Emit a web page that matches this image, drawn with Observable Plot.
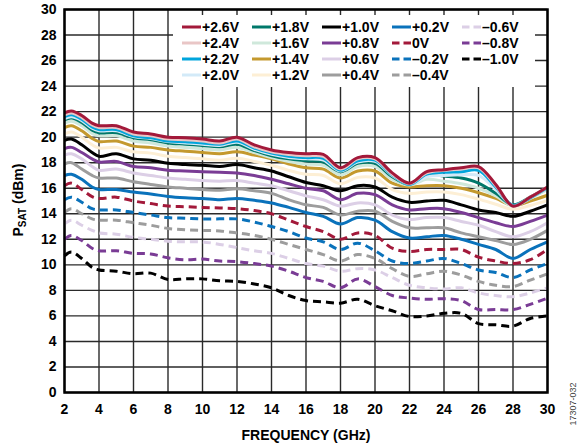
<!DOCTYPE html>
<html><head><meta charset="utf-8">
<script src="https://cdn.jsdelivr.net/npm/d3@7"></script>
<script src="https://cdn.jsdelivr.net/npm/@observablehq/plot@0.6"></script>
<style>body{margin:0;background:#fff}#chart svg{display:block}</style>
</head><body><div id="chart"></div>
<script>
const freq = [2, 2.4, 3, 3.6, 4, 5, 6, 7, 8, 9, 10, 11, 12, 13, 14, 15, 16, 17, 18, 19, 20, 21, 22, 23, 24, 25, 26, 27, 28, 29, 30];
const xTicks = [2, 4, 6, 8, 10, 12, 14, 16, 18, 20, 22, 24, 26, 28, 30];
const yTicks = [0, 2, 4, 6, 8, 10, 12, 14, 16, 18, 20, 22, 24, 26, 28, 30];

const p26 = [21.9, 22.05, 21.7, 21.1, 20.9, 20.9, 20.4, 20.25, 20.0, 19.95, 19.85, 19.7, 20.0, 19.4, 19.0, 18.8, 18.7, 18.65, 17.6, 18.4, 18.4, 17.2, 16.4, 17.3, 17.45, 17.6, 17.7, 16.3, 14.6, 15.3, 16.1];
const p24 = [21.75, 21.9, 21.55, 20.95, 20.75, 20.75, 20.25, 20.1, 19.85, 19.8, 19.7, 19.55, 19.85, 19.25, 18.85, 18.65, 18.55, 18.5, 17.5, 18.3, 18.3, 17.1, 16.35, 17.2, 17.4, 17.5, 17.6, 16.2, 14.6, 15.3, 16.1];
const p22 = [21.6, 21.75, 21.4, 20.8, 20.6, 20.6, 20.1, 19.95, 19.7, 19.65, 19.55, 19.45, 19.7, 19.15, 18.75, 18.5, 18.4, 18.35, 17.4, 18.15, 18.2, 17.05, 16.3, 17.1, 17.25, 17.3, 17.4, 16.1, 14.65, 15.25, 16.05];
const p20 = [21.45, 21.6, 21.3, 20.7, 20.5, 20.5, 20.05, 19.9, 19.65, 19.55, 19.45, 19.35, 19.6, 19.05, 18.65, 18.4, 18.3, 18.2, 17.35, 18.05, 18.1, 17.0, 16.3, 16.9, 17.0, 17.05, 17.0, 15.9, 14.65, 15.25, 16.0];
const p18 = [21.35, 21.5, 21.15, 20.55, 20.35, 20.35, 19.95, 19.8, 19.55, 19.45, 19.35, 19.25, 19.45, 18.95, 18.55, 18.3, 18.15, 18.05, 17.3, 17.95, 17.95, 16.9, 16.3, 17.05, 16.95, 16.8, 16.4, 15.6, 14.7, 15.3, 16.05];
const p16 = [21.1, 21.25, 20.9, 20.3, 20.1, 20.1, 19.7, 19.55, 19.3, 19.2, 19.1, 19.0, 19.2, 18.8, 18.4, 18.1, 17.9, 17.8, 17.05, 17.7, 17.7, 16.7, 16.25, 16.7, 16.55, 16.35, 16.0, 15.4, 14.6, 15.2, 15.9];
const p14 = [20.75, 20.9, 20.5, 19.9, 19.65, 19.7, 19.3, 19.2, 19.0, 18.9, 18.8, 18.7, 18.85, 18.6, 18.3, 17.9, 17.6, 17.5, 16.8, 17.35, 17.35, 16.4, 16.1, 16.2, 16.2, 16.0, 15.65, 15.2, 14.65, 15.0, 15.45];
const p12 = [20.25, 20.4, 20.0, 19.4, 19.15, 19.2, 18.85, 18.75, 18.5, 18.4, 18.3, 18.2, 18.35, 18.1, 17.8, 17.4, 17.1, 17.0, 16.35, 16.85, 16.8, 15.9, 15.6, 15.7, 15.7, 15.5, 15.15, 14.75, 14.35, 14.65, 15.05];
const p10 = [19.75, 19.85, 19.4, 18.8, 18.5, 18.7, 18.3, 18.2, 17.95, 17.85, 17.8, 17.7, 17.85, 17.6, 17.35, 16.9, 16.45, 16.2, 15.8, 16.2, 16.1, 15.3, 14.9, 15.0, 15.05, 14.7, 14.3, 14.1, 13.8, 14.2, 14.7];
const p08 = [19.1, 19.2, 18.8, 18.3, 18.05, 18.1, 17.7, 17.6, 17.4, 17.35, 17.3, 17.25, 17.2, 17.0, 16.7, 16.35, 16.0, 15.8, 15.1, 15.6, 15.5, 14.7, 14.3, 14.4, 14.4, 14.1, 13.7, 13.3, 13.0, 13.4, 13.9];
const p06 = [18.6, 18.7, 18.3, 17.7, 17.4, 17.5, 17.2, 17.0, 16.8, 16.7, 16.6, 16.55, 16.6, 16.4, 16.2, 15.8, 15.4, 15.1, 14.6, 14.85, 14.7, 13.9, 13.55, 13.7, 13.7, 13.4, 13.1, 12.6, 12.2, 12.6, 13.3];
const p04 = [17.9, 18.0, 17.5, 17.0, 16.8, 16.8, 16.5, 16.3, 16.1, 16.0, 15.9, 15.85, 15.95, 15.8, 15.6, 15.1, 14.7, 14.5, 13.9, 14.2, 14.2, 13.4, 12.9, 12.9, 12.9, 12.5, 12.2, 11.9, 11.6, 12.0, 12.7];
const p02 = [17.0, 17.1, 16.7, 16.1, 15.9, 15.9, 15.7, 15.55, 15.35, 15.25, 15.2, 15.1, 15.2, 15.05, 14.85, 14.5, 14.1, 13.8, 13.2, 13.7, 13.5, 12.6, 12.1, 12.2, 12.3, 12.0, 11.6, 11.2, 10.5, 11.2, 11.8];
const z00 = [16.2, 16.4, 15.9, 15.35, 15.2, 15.3, 15.0, 14.8, 14.6, 14.55, 14.5, 14.45, 14.4, 14.25, 14.0, 13.5, 13.0, 12.6, 12.0, 12.5, 12.3, 11.3, 11.05, 11.2, 11.2, 11.2, 10.6, 10.3, 10.1, 10.4, 11.2];
const m02 = [15.1, 15.3, 14.9, 14.4, 14.3, 14.3, 14.1, 13.9, 13.7, 13.65, 13.6, 13.6, 13.6, 13.35, 13.0, 12.6, 12.1, 11.8, 11.2, 11.7, 11.1, 10.3, 10.1, 10.3, 10.5, 10.1, 9.6, 9.4, 9.0, 9.6, 10.1];
const m04 = [14.1, 14.4, 14.0, 13.6, 13.5, 13.5, 13.3, 13.1, 12.85, 12.75, 12.7, 12.65, 12.5, 12.3, 12.0, 11.6, 11.2, 10.8, 10.3, 10.8, 10.5, 9.7, 9.1, 9.3, 9.5, 9.2, 8.7, 8.4, 8.3, 8.8, 9.3];
const m06 = [13.2, 13.5, 13.1, 12.7, 12.5, 12.4, 12.15, 12.0, 11.85, 11.8, 11.8, 11.6, 11.35, 11.1, 10.9, 10.5, 10.1, 9.9, 9.5, 9.7, 9.6, 9.0, 8.4, 8.2, 8.1, 8.2, 7.8, 7.6, 7.5, 7.8, 8.2];
const m08 = [12.0, 12.3, 11.9, 11.3, 11.1, 11.1, 10.9, 10.85, 10.55, 10.4, 10.45, 10.3, 10.25, 10.1, 9.9, 9.5, 9.0, 8.7, 8.2, 8.9, 8.3, 7.6, 7.4, 7.3, 7.35, 7.2, 6.5, 6.5, 6.5, 6.9, 7.4];
const m10 = [10.7, 11.0, 10.5, 9.8, 9.6, 9.5, 9.3, 9.35, 8.85, 8.9, 8.9, 8.75, 8.7, 8.5, 8.2, 7.6, 7.2, 7.1, 7.0, 7.3, 6.8, 6.4, 5.95, 6.0, 6.2, 6.2, 5.4, 5.3, 5.2, 5.8, 6.0];

const labels = ["+2.6V","+2.4V","+2.2V","+2.0V","+1.8V","+1.6V","+1.4V","+1.2V","+1.0V","+0.8V","+0.6V","+0.4V","+0.2V","0V","\u20130.2V","\u20130.4V","\u20130.6V","\u20130.8V","\u20131.0V"];
const colors = ["#a3193a","#e9c6c6","#00a5dc","#d3eaf8","#00786a","#cfe8db","#c4992e","#fdefd5","#000000","#7a3c95","#dccfe6","#9d9d9d","#0a72bb","#a3193a","#0a72bb","#9d9d9d","#dccfe6","#7a3c95","#000000"];
const dashed = [false,false,false,false,false,false,false,false,false,false,false,false,false,true,true,true,true,true,true];
const values = [p26,p24,p22,p20,p18,p16,p14,p12,p10,p08,p06,p04,p02,z00,m02,m04,m06,m08,m10];

const series = labels.map((label, i) => ({label, color: colors[i], dashed: dashed[i], values: values[i]}));
const drawOrder = series.slice().reverse();

const font = "'Liberation Sans', Arial, sans-serif";

const lineMarks = drawOrder.map(s => Plot.line(
  freq.map((f, i) => ({f, v: s.values[i]})),
  {x: "f", y: "v", stroke: s.color, strokeWidth: 3, curve: "catmull-rom",
   strokeDasharray: s.dashed ? "8,5" : null, strokeLinecap: "butt", strokeLinejoin: "round"}
));

const chart = Plot.plot({
  width: 580, height: 446,
  marginLeft: 64, marginRight: 33, marginTop: 9, marginBottom: 54,
  style: {fontFamily: font, fontSize: "14px", fontWeight: "bold", color: "#000", background: "#fff"},
  x: {domain: [2, 30], ticks: xTicks, label: null},
  y: {domain: [0, 30], ticks: yTicks, label: null},
  marks: [
    Plot.gridX(xTicks, {stroke: "#2a2a2a", strokeOpacity: 1, strokeWidth: 1.4}),
    Plot.gridY(yTicks, {stroke: "#2a2a2a", strokeOpacity: 1, strokeWidth: 1.4}),
    ...lineMarks,
    Plot.axisX({ticks: xTicks, tickSize: 0, tickPadding: 12, label: null, fontWeight: "bold"}),
    Plot.axisY({ticks: yTicks, tickSize: 0, tickPadding: 8, label: null, fontWeight: "bold"}),
    Plot.frame({stroke: "#000", strokeWidth: 2.5})
  ]
});

const svg = d3.select(chart);

// Legend box (covers the grid) inserted before lines
const firstLine = chart.querySelector("g[aria-label='line']");
svg.insert("rect", () => firstLine)
  .attr("x", 173).attr("y", 15).attr("width", 362).attr("height", 72).attr("fill", "#fff");

const legend = svg.append("g").attr("font-family", font).attr("font-size", 14)
  .attr("font-weight", "bold").attr("text-anchor", "start");
const colX = [182, 252, 322, 392, 462];
const rowY = [27, 43, 59, 75];
series.forEach((s, i) => {
  const c = Math.floor(i / 4), r = i % 4;
  const x0 = colX[c], y0 = rowY[r];
  legend.append("line").attr("x1", x0).attr("x2", x0 + 19).attr("y1", y0).attr("y2", y0)
    .attr("stroke", s.color).attr("stroke-width", 3)
    .attr("stroke-dasharray", s.dashed ? "7.5,4" : null);
  legend.append("text").attr("x", x0 + 20).attr("y", y0).attr("dy", "0.36em")
    .attr("text-anchor", "start").attr("fill", "#000").text(s.label);
});

// Axis titles
svg.append("text").attr("x", 306).attr("y", 440).attr("text-anchor", "middle")
  .attr("font-family", font).attr("font-size", 14).attr("font-weight", "bold").text("FREQUENCY (GHz)");
const yt = svg.append("text").attr("transform", "translate(23,200) rotate(-90)").attr("text-anchor", "middle")
  .attr("font-family", font).attr("font-size", 14).attr("font-weight", "bold");
yt.append("tspan").text("P");
yt.append("tspan").attr("font-size", 10).attr("dy", 3).text("SAT");
yt.append("tspan").attr("dy", -3).text(" (dBm)");
svg.append("text").attr("transform", "translate(576,404) rotate(-90)").attr("text-anchor", "middle")
  .attr("font-family", font).attr("font-size", 9).attr("font-weight", "normal").attr("fill", "#444").text("17307-032");

document.getElementById("chart").appendChild(chart);
</script>
</body></html>
